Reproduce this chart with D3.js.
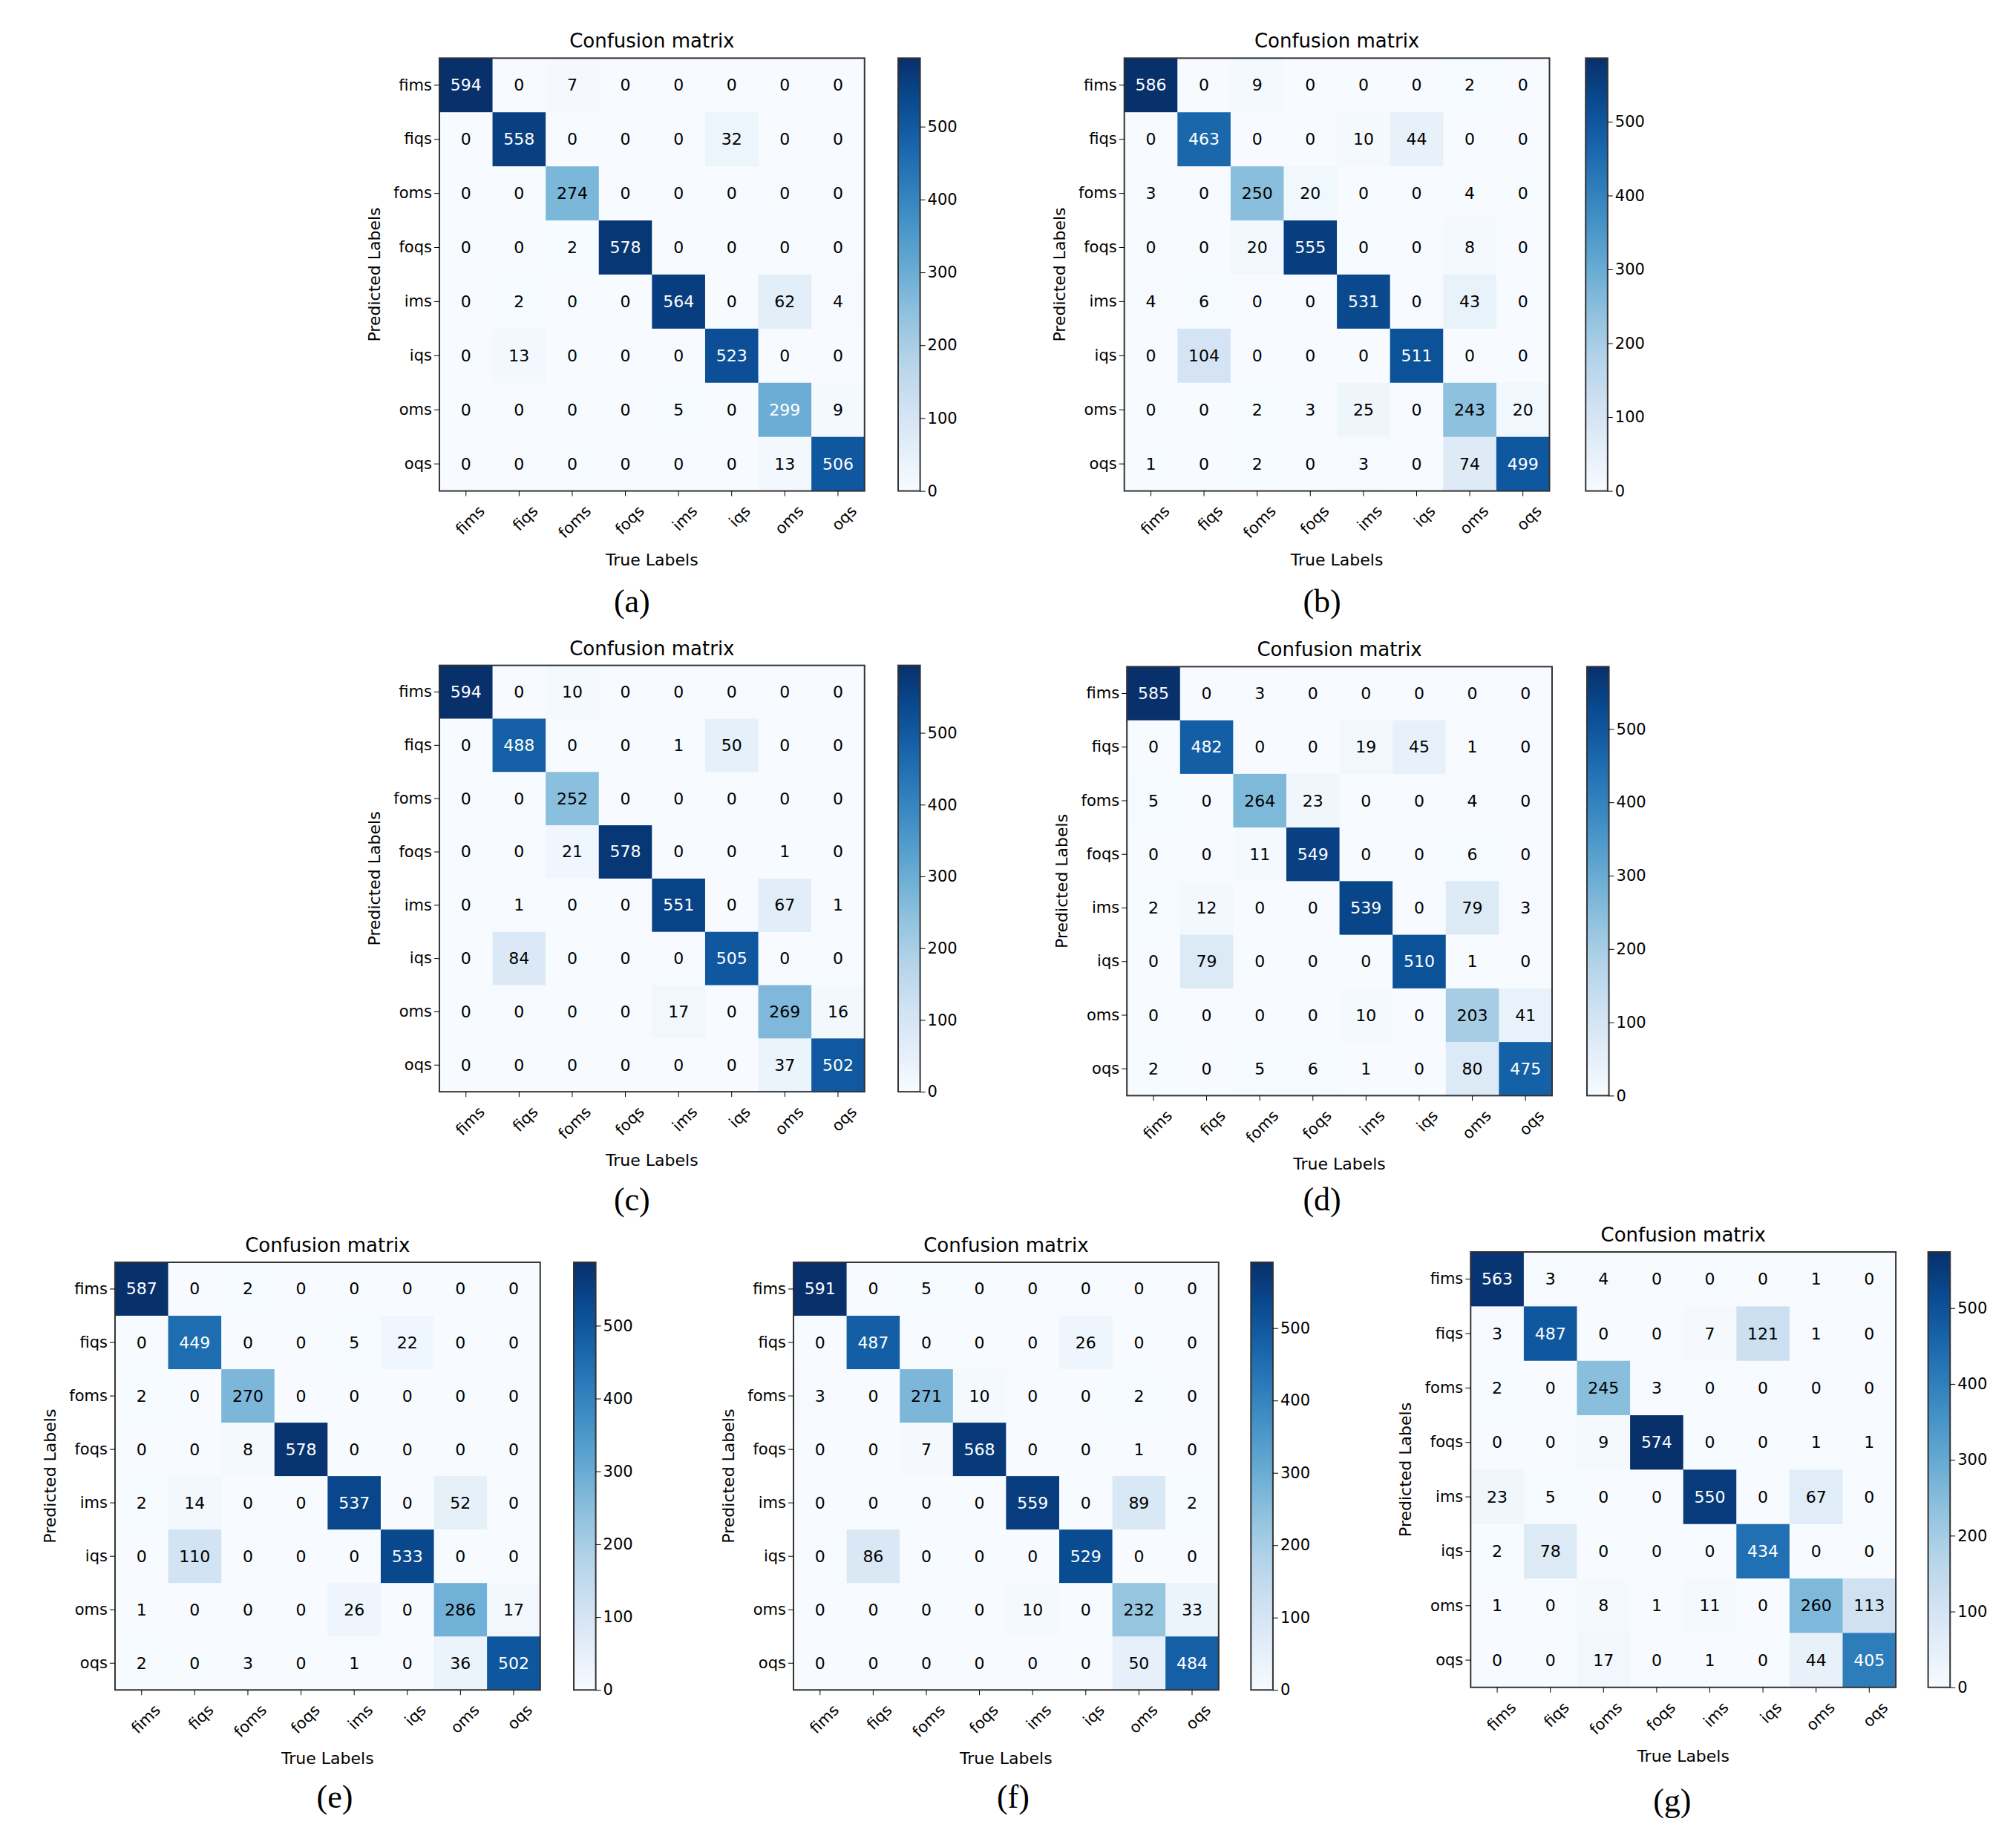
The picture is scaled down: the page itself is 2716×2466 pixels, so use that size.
<!DOCTYPE html>
<html><head><meta charset="utf-8">
<script src="https://cdn.jsdelivr.net/npm/d3@7"></script>
<style>body{margin:0;background:#fff}</style>
</head><body>
<script>
var W = 2716, H = 2466, s = 2716 / 1560;

var labels = ["fims", "fiqs", "foms", "foqs", "ims", "iqs", "oms", "oqs"];
var captions = ["(a)", "(b)", "(c)", "(d)", "(e)", "(f)", "(g)"];

// rows = predicted, columns = true
var matA = [[594,0,7,0,0,0,0,0],[0,558,0,0,0,32,0,0],[0,0,274,0,0,0,0,0],[0,0,2,578,0,0,0,0],
            [0,2,0,0,564,0,62,4],[0,13,0,0,0,523,0,0],[0,0,0,0,5,0,299,9],[0,0,0,0,0,0,13,506]];
var matB = [[586,0,9,0,0,0,2,0],[0,463,0,0,10,44,0,0],[3,0,250,20,0,0,4,0],[0,0,20,555,0,0,8,0],
            [4,6,0,0,531,0,43,0],[0,104,0,0,0,511,0,0],[0,0,2,3,25,0,243,20],[1,0,2,0,3,0,74,499]];
var matC = [[594,0,10,0,0,0,0,0],[0,488,0,0,1,50,0,0],[0,0,252,0,0,0,0,0],[0,0,21,578,0,0,1,0],
            [0,1,0,0,551,0,67,1],[0,84,0,0,0,505,0,0],[0,0,0,0,17,0,269,16],[0,0,0,0,0,0,37,502]];
var matD = [[585,0,3,0,0,0,0,0],[0,482,0,0,19,45,1,0],[5,0,264,23,0,0,4,0],[0,0,11,549,0,0,6,0],
            [2,12,0,0,539,0,79,3],[0,79,0,0,0,510,1,0],[0,0,0,0,10,0,203,41],[2,0,5,6,1,0,80,475]];
var matE = [[587,0,2,0,0,0,0,0],[0,449,0,0,5,22,0,0],[2,0,270,0,0,0,0,0],[0,0,8,578,0,0,0,0],
            [2,14,0,0,537,0,52,0],[0,110,0,0,0,533,0,0],[1,0,0,0,26,0,286,17],[2,0,3,0,1,0,36,502]];
var matF = [[591,0,5,0,0,0,0,0],[0,487,0,0,0,26,0,0],[3,0,271,10,0,0,2,0],[0,0,7,568,0,0,1,0],
            [0,0,0,0,559,0,89,2],[0,86,0,0,0,529,0,0],[0,0,0,0,10,0,232,33],[0,0,0,0,0,0,50,484]];
var matG = [[563,3,4,0,0,0,1,0],[3,487,0,0,7,121,1,0],[2,0,245,3,0,0,0,0],[0,0,9,574,0,0,1,1],
            [23,5,0,0,550,0,67,0],[2,78,0,0,0,434,0,0],[1,0,8,1,11,0,260,113],[0,0,17,0,1,0,44,405]];
var cbTicks = [0, 100, 200, 300, 400, 500];

// layout in reference display units: matrix x0,x1,y0,y1, colorbar x
var panels = [
  {m: matA, x0: 340, x1: 669, y0: 45, y1: 380, cb: 695, cap: [489, 466]},
  {m: matB, x0: 870, x1: 1199, y0: 45, y1: 380, cb: 1227, cap: [1023, 466]},
  {m: matC, x0: 340, x1: 669, y0: 515, y1: 845, cb: 695, cap: [489, 929]},
  {m: matD, x0: 872, x1: 1201, y0: 516, y1: 848, cb: 1228, cap: [1023, 929]},
  {m: matE, x0: 89, x1: 418, y0: 977, y1: 1308, cb: 444, cap: [259, 1391]},
  {m: matF, x0: 614, x1: 943, y0: 977, y1: 1308, cb: 968, cap: [784, 1391]},
  {m: matG, x0: 1138, x1: 1467, y0: 969, y1: 1306, cb: 1492, cap: [1294, 1394]}
];

var svg = d3.select("body").append("svg").attr("width", W).attr("height", H)
  .style("font-family", "DejaVu Sans");

panels.forEach(function (p, pi) {
  var vmax = d3.max(p.m, function (r) { return d3.max(r); });
  var color = d3.scaleSequential(d3.interpolateBlues).domain([0, vmax]);
  var x = d3.scaleBand().domain(labels).range([p.x0 * s, p.x1 * s]);
  var y = d3.scaleBand().domain(labels).range([p.y0 * s, p.y1 * s]);
  var g = svg.append("g");

  var cells = [];
  p.m.forEach(function (row, i) {
    row.forEach(function (v, j) { cells.push({r: labels[i], c: labels[j], v: v}); });
  });

  g.selectAll("rect.cell").data(cells).enter().append("rect")
    .attr("x", function (d) { return x(d.c); })
    .attr("y", function (d) { return y(d.r); })
    .attr("width", x.bandwidth() + 0.5).attr("height", y.bandwidth() + 0.5)
    .attr("fill", function (d) { return color(d.v); });

  g.selectAll("text.val").data(cells).enter().append("text")
    .attr("x", function (d) { return x(d.c) + x.bandwidth() / 2; })
    .attr("y", function (d) { return y(d.r) + y.bandwidth() / 2; })
    .attr("text-anchor", "middle").attr("dominant-baseline", "central")
    .attr("font-size", 22)
    .attr("fill", function (d) { return d.v > vmax / 2 ? "#fff" : "#000"; })
    .text(function (d) { return d.v; });

  g.append("rect").attr("x", p.x0 * s).attr("y", p.y0 * s)
    .attr("width", (p.x1 - p.x0) * s).attr("height", (p.y1 - p.y0) * s)
    .attr("fill", "none").attr("stroke", "#333").attr("stroke-width", 2);

  // axes
  var ax = g.append("g").attr("transform", "translate(0," + p.y1 * s + ")")
    .call(d3.axisBottom(x).tickSize(7).tickSizeOuter(0));
  ax.select(".domain").remove();
  ax.selectAll("text").attr("font-size", 21).attr("font-family", "DejaVu Sans")
    .attr("text-anchor", "end").attr("dy", "0.3em").attr("dx", "-0.2em")
    .attr("transform", "translate(18,14) rotate(-45)");

  var ay = g.append("g").attr("transform", "translate(" + p.x0 * s + ",0)")
    .call(d3.axisLeft(y).tickSize(7).tickSizeOuter(0));
  ay.select(".domain").remove();
  ay.selectAll("text").attr("font-size", 21).attr("font-family", "DejaVu Sans");

  var cx = (p.x0 + p.x1) / 2 * s;
  g.append("text").attr("x", cx).attr("y", p.y0 * s - 14)
    .attr("text-anchor", "middle").attr("font-size", 26).text("Confusion matrix");
  g.append("text").attr("x", cx).attr("y", p.y1 * s + 100)
    .attr("text-anchor", "middle").attr("font-size", 22).text("True Labels");
  g.append("text")
    .attr("transform", "translate(" + (p.x0 * s - 80) + "," + (p.y0 + p.y1) / 2 * s + ") rotate(-90)")
    .attr("text-anchor", "middle").attr("font-size", 22).text("Predicted Labels");

  // colorbar
  var cbx = p.cb * s, cbw = 17 * s;
  var cy = d3.scaleLinear().domain([0, vmax]).range([p.y1 * s, p.y0 * s]);
  var gid = "grad" + pi;
  var grad = svg.append("defs").append("linearGradient").attr("id", gid)
    .attr("x1", 0).attr("y1", 1).attr("x2", 0).attr("y2", 0);
  d3.range(0, 1.01, 0.1).forEach(function (t) {
    grad.append("stop").attr("offset", t).attr("stop-color", color(t * vmax));
  });
  g.append("rect").attr("x", cbx).attr("y", p.y0 * s).attr("width", cbw)
    .attr("height", (p.y1 - p.y0) * s).attr("fill", "url(#" + gid + ")")
    .attr("stroke", "#333").attr("stroke-width", 2);
  var ac = g.append("g").attr("transform", "translate(" + (cbx + cbw) + ",0)")
    .call(d3.axisRight(cy).tickValues(cbTicks).tickSize(7));
  ac.select(".domain").remove();
  ac.selectAll("text").attr("font-size", 21).attr("font-family", "DejaVu Sans");

  svg.append("text").attr("x", p.cap[0] * s).attr("y", p.cap[1] * s + 14)
    .attr("text-anchor", "middle").attr("font-family", "Liberation Serif")
    .attr("font-size", 44).text(captions[pi]);
});
</script>
</body></html>
